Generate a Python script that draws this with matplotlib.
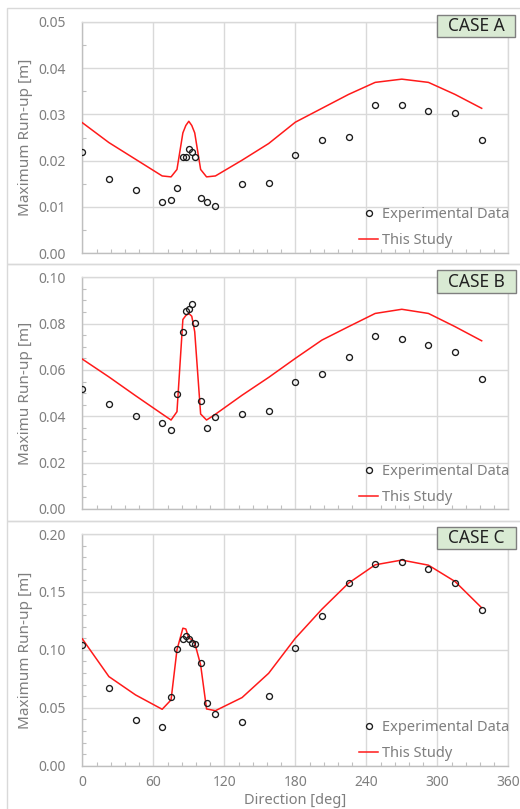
import matplotlib
matplotlib.use("Agg")
import matplotlib.pyplot as plt
from matplotlib.patches import Rectangle
from matplotlib.lines import Line2D
from matplotlib.ticker import MultipleLocator
import numpy as np

plt.rcParams['font.family'] = ['Noto Sans', 'DejaVu Sans']

directions = [0, 22.5, 45, 67.5, 75, 80, 85, 87.5, 90, 92.5, 95, 100, 105, 112.5,
              135, 157.5, 180, 202.5, 225, 247.5, 270, 292.5, 315, 337.5]

expA = [0.0218, 0.0160, 0.0137, 0.0111, 0.0114, 0.0140, 0.0207, 0.0207, 0.0226, 0.0218,
        0.0207, 0.0119, 0.0111, 0.0103, 0.0149, 0.0152, 0.0213, 0.0245, 0.0251, 0.0321,
        0.0321, 0.0307, 0.0303, 0.0245]
simA = [0.0282, 0.0239, 0.0203, 0.0167, 0.0165, 0.0181, 0.0260, 0.0276, 0.0285, 0.0276,
        0.0260, 0.0181, 0.0165, 0.0167, 0.0201, 0.0237, 0.0283, 0.0313, 0.0343, 0.0369,
        0.0376, 0.0369, 0.0343, 0.0313]

expB = [0.0517, 0.0453, 0.0403, 0.0371, 0.0342, 0.0496, 0.0762, 0.0856, 0.0862, 0.0885,
        0.0803, 0.0465, 0.0348, 0.0396, 0.0409, 0.0424, 0.0548, 0.0583, 0.0655, 0.0747,
        0.0734, 0.0708, 0.0677, 0.0561]
simB = [0.0647, 0.0570, 0.0489, 0.0410, 0.0384, 0.0420, 0.0818, 0.0835, 0.0844, 0.0832,
        0.0765, 0.0410, 0.0384, 0.0409, 0.0491, 0.0568, 0.0650, 0.0729, 0.0787, 0.0844,
        0.0862, 0.0844, 0.0787, 0.0726]

expC = [0.1045, 0.0671, 0.0395, 0.0337, 0.0596, 0.1006, 0.1095, 0.1123, 0.1095, 0.1063,
        0.1049, 0.0890, 0.0545, 0.0444, 0.0380, 0.0602, 0.1014, 0.1296, 0.1581, 0.1745,
        0.1760, 0.1697, 0.1581, 0.1348]
simC = [0.1095, 0.0769, 0.0611, 0.0487, 0.0568, 0.1000, 0.1187, 0.1180, 0.1100, 0.1090,
        0.1060, 0.0870, 0.0490, 0.0475, 0.0588, 0.0798, 0.1100, 0.1351, 0.1576, 0.1734,
        0.1775, 0.1731, 0.1590, 0.1363]

case_labels = ["CASE A", "CASE B", "CASE C"]
ylabels = ["Maximum Run-up [m]", "Maximu Run-up [m]", "Maximum Run-up [m]"]
ymax = [0.05, 0.10, 0.20]
ystep = [0.01, 0.02, 0.05]
yminor = [0.005, 0.005, 0.01]
xticks = [0, 60, 120, 180, 240, 300, 360]

W, H = 520, 809
fig = plt.figure(figsize=(W / 100, H / 100), dpi=100)

GRAY = '#7f7f7f'
GRID = '#d9d9d9'
RED = '#ff1a1a'

def fx(px):
    return px / W
def fy(py):
    return 1 - py / H

for y0, y1 in [(8.5, 264), (264, 520.5), (520.5, 812)]:
    fig.patches.append(Rectangle((fx(7.3), fy(y1)), fx(530) - fx(7.3), fy(y0) - fy(y1),
                                 transform=fig.transFigure, fill=False,
                                 edgecolor=GRID, linewidth=1.0, zorder=0))

tops = [21.7, 277.3, 534.0]
bots = [253.3, 509.0, 765.7]
left, right = 82.3, 508.3
boxes = [(437, 14.7, 515, 37.0), (437, 270.3, 515.5, 293.3), (437, 526.7, 515.5, 549.3)]
legend_y = [(215.7, 240.0), (471.7, 496.7), (728.0, 753.0)]

data = [(expA, simA), (expB, simB), (expC, simC)]

for i in range(3):
    ax = fig.add_axes([fx(left), fy(bots[i]), fx(right) - fx(left), fy(tops[i]) - fy(bots[i])])
    exp, sim = data[i]
    ax.plot(directions, sim, color=RED, lw=1.1, label='This Study', zorder=3)
    ax.plot(directions, exp, linestyle='none', marker='o', markersize=4.3,
            markerfacecolor='none', markeredgecolor='#1a1a1a', markeredgewidth=0.95,
            label='Experimental Data', zorder=4)
    ax.set_xlim(0, 360)
    ax.set_ylim(0, ymax[i])
    ax.set_xticks(xticks)
    ax.set_yticks(np.arange(0, ymax[i] + 1e-9, ystep[i]))
    ax.xaxis.set_minor_locator(MultipleLocator(12))
    ax.yaxis.set_minor_locator(MultipleLocator(yminor[i]))
    ax.grid(True, which='major', color=GRID, linewidth=1.0)
    ax.set_axisbelow(True)
    for s in ax.spines.values():
        s.set_color(GRID)
        s.set_linewidth(1.0)
    ax.spines['left'].set_color('#bfbfbf')
    ax.spines['bottom'].set_color('#bfbfbf')
    ax.tick_params(which='major', length=0, labelcolor=GRAY, labelsize=10)
    ax.tick_params(axis='y', which='major', pad=12)
    ax.tick_params(axis='x', which='major', pad=7)
    ax.tick_params(which='minor', direction='in', length=3, color='#bfbfbf', width=0.8,
                   top=False, right=False)
    ax.yaxis.set_major_formatter(matplotlib.ticker.FormatStrFormatter('%.2f'))
    if i < 2:
        ax.tick_params(axis='x', which='major', labelbottom=False)
    else:
        ax.set_xlabel('Direction [deg]', color=GRAY, fontsize=10.5)
        ax.xaxis.set_label_coords(0.5, (bots[i] - 792.5) / (bots[i] - tops[i]))
    ax.set_ylabel(ylabels[i], color=GRAY, fontsize=11)
    ax.yaxis.set_label_coords((33 - left) / (right - left), 0.5)

    ly0, ly1 = legend_y[i]
    yc = (bots[i] - (ly0 + ly1) / 2) / (bots[i] - tops[i])
    handles = [Line2D([], [], linestyle='none', marker='o', markersize=4.3,
                      markerfacecolor='none', markeredgecolor='#1a1a1a', markeredgewidth=0.95),
               Line2D([], [], color=RED, lw=1.1)]
    ax.legend(handles, ['Experimental Data', 'This Study'], loc='center left',
              bbox_to_anchor=((359.3 - left) / (right - left), yc),
              frameon=False, fontsize=10.5, borderpad=0, borderaxespad=0,
              handlelength=1.3, handletextpad=0.25, labelspacing=0.75,
              labelcolor=GRAY)

    x0, y0, x1, y1 = boxes[i]
    fig.patches.append(Rectangle((fx(x0), fy(y1)), fx(x1) - fx(x0), fy(y0) - fy(y1),
                                 transform=fig.transFigure, facecolor='#d9ead3',
                                 edgecolor='#7f7f7f', linewidth=1.0, zorder=5))
    fig.text(fx((x0 + x1) / 2), fy((y0 + y1) / 2), case_labels[i], ha='center', va='center',
             fontsize=12.5, color='#222222', zorder=6)

fig.savefig('out.png', dpi=100)
